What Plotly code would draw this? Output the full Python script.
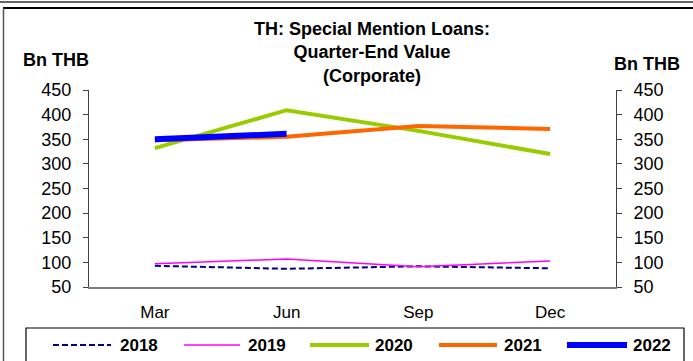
import plotly.graph_objects as go

months = ["Mar", "Jun", "Sep", "Dec"]
y_ticks = [50, 100, 150, 200, 250, 300, 350, 400, 450]

v2018 = [93, 87, 92, 88]
v2019 = [97, 107, 91, 103]
v2020 = [332, 409, 367, 320]
v2021 = [348, 355, 377, 371]
v2022 = [350, 361]

series_names = ["2018", "2019", "2020", "2021", "2022"]
series_values = [v2018, v2019, v2020, v2021, v2022]
series_colors = ["#000080", "#FF00FF", "#99CC00", "#FF6600", "#0000FF"]
series_widths = [2, 1.5, 4, 4, 6]
series_dash = ["6px,3px", "solid", "solid", "solid", "solid"]

W, H = 693, 361
L, R, T, B = 89, 616, 90, 287
PW, PH = R - L, B - T


def px(x):
    return (x - L) / PW


def py(y):
    return (B - y) / PH


FONT = "Liberation Sans, Arial, sans-serif"
xs = list(range(len(months)))

fig = go.Figure()
for name, vals, col, w, d in zip(series_names, series_values, series_colors,
                                 series_widths, series_dash):
    fig.add_trace(go.Scatter(x=xs[:len(vals)], y=vals, name=name, mode="lines",
                             line=dict(color=col, width=w, dash=d), showlegend=False))
fig.add_trace(go.Scatter(x=[0], y=[None], yaxis="y2", showlegend=False,
                         hoverinfo="skip", mode="lines"))

axis_common = dict(range=[50, 450], tickvals=y_ticks, ticks="outside", ticklen=5,
                   tickcolor="#404040", showline=True, linecolor="#404040", linewidth=1,
                   showgrid=False, zeroline=False,
                   tickfont=dict(family=FONT, size=18, color="#000"))

fig.update_layout(
    width=W, height=H,
    margin=dict(l=L, r=W - R, t=T, b=H - B, autoexpand=False),
    paper_bgcolor="white", plot_bgcolor="white",
    xaxis=dict(range=[-0.5, 3.5], tickvals=xs, ticktext=months, showgrid=False,
               zeroline=False, showline=True, linecolor="#808080", linewidth=2,
               ticks="", ticklabelstandoff=9,
               tickfont=dict(family=FONT, size=17, color="#000")),
    yaxis=dict(**axis_common, side="left", ticklabelstandoff=8),
    yaxis2=dict(**axis_common, side="right", overlaying="y", ticklabelstandoff=8),
    showlegend=False,
)

fig.add_annotation(text="<b>TH: Special Mention Loans:<br>Quarter-End Value<br>(Corporate)</b>",
                   x=px(372), y=py(52), xref="paper", yref="paper",
                   showarrow=False, xanchor="center", yanchor="middle",
                   font=dict(family=FONT, size=18, color="#000"))
fig.add_annotation(text="<b>Bn THB</b>", x=px(56), y=py(60), xref="paper", yref="paper",
                   showarrow=False, xanchor="center", yanchor="middle",
                   font=dict(family=FONT, size=18, color="#000"))
fig.add_annotation(text="<b>Bn THB</b>", x=px(647), y=py(64), xref="paper", yref="paper",
                   showarrow=False, xanchor="center", yanchor="middle",
                   font=dict(family=FONT, size=18, color="#000"))

# legend (drawn manually to match the reference's long line samples)
leg_line_x = [(53, 111), (184, 240), (310, 369), (439, 497), (567, 627)]
leg_text_x = [118, 246, 373, 502, 631]
leg_y = 345
for name, col, w, d, (x0, x1), tx in zip(series_names, series_colors, series_widths,
                                         series_dash, leg_line_x, leg_text_x):
    fig.add_shape(type="line", xref="paper", yref="paper", x0=px(x0), x1=px(x1),
                  y0=py(leg_y), y1=py(leg_y), line=dict(color=col, width=w, dash=d))
    fig.add_annotation(text=f"<b>{name}</b>", x=px(tx), y=py(leg_y), xref="paper",
                       yref="paper", showarrow=False, xanchor="left", yanchor="middle",
                       font=dict(family=FONT, size=17, color="#000"))

# frames
fig.add_shape(type="line", xref="paper", yref="paper", x0=px(0), x1=px(693),
              y0=py(2), y1=py(2), line=dict(color="#333", width=1.5))
fig.add_shape(type="line", xref="paper", yref="paper", x0=px(3), x1=px(693),
              y0=py(8), y1=py(8), line=dict(color="#000", width=2))
fig.add_shape(type="line", xref="paper", yref="paper", x0=px(3.5), x1=px(3.5),
              y0=py(8), y1=py(362), line=dict(color="#555", width=1.5))
fig.add_shape(type="rect", xref="paper", yref="paper", x0=px(26), x1=px(684),
              y0=py(328), y1=py(370), line=dict(color="#000", width=1.2))

fig.write_html("out.html", config={"displayModeBar": False},
               post_script="document.body.style.margin='0';document.body.style.overflow='hidden';")
